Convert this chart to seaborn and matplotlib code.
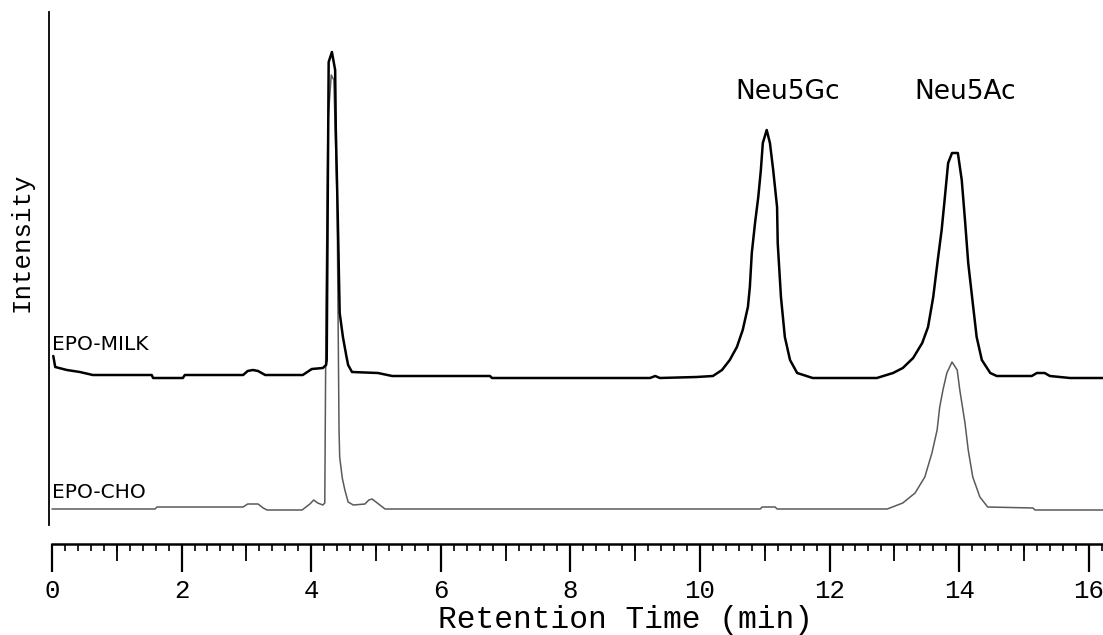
import numpy as np
import pandas as pd
import matplotlib
matplotlib.use("Agg")
import matplotlib.pyplot as plt
from matplotlib.ticker import MultipleLocator, FixedLocator, NullFormatter
import seaborn as sns

# retention time (min) and signal above baseline
milk_time = [0.02, 0.05, 0.23, 0.43, 0.63, 1.54, 1.56, 2.02, 2.05, 2.95, 3.02, 3.10, 3.18, 3.29,
             3.87, 4.01, 4.18, 4.23, 4.24, 4.26, 4.27, 4.32, 4.37, 4.38, 4.41, 4.44, 4.49, 4.54,
             4.57, 4.63, 5.03, 5.25, 6.76, 6.79, 9.23, 9.31, 9.38, 9.95, 10.20, 10.34, 10.46,
             10.57, 10.66, 10.74, 10.77, 10.80, 10.85, 10.90, 10.94, 10.97, 11.03, 11.08, 11.13,
             11.19, 11.20, 11.25, 11.31, 11.39, 11.50, 11.74, 12.73, 12.98, 13.13, 13.29, 13.43,
             13.52, 13.60, 13.67, 13.73, 13.78, 13.83, 13.89, 13.98, 14.04, 14.09, 14.14, 14.21,
             14.27, 14.35, 14.48, 14.58, 15.12, 15.20, 15.32, 15.40, 15.71, 16.22]
milk_signal = [20, 9, 6, 4, 1, 1, -2, -2, 1, 1, 5, 6, 5, 1,
               1, 7, 8, 11, 16, 219, 314, 324, 306, 248, 161, 63, 39, 21,
               11, 4, 3, 0, 0, -2, -2, 0, -2, -1, 0, 6, 16,
               29, 46, 69, 89, 123, 153, 179, 206, 233, 246, 233, 206,
               169, 133, 79, 39, 16, 3, -2, -2, 3, 8, 18, 33,
               49, 79, 116, 146, 179, 213, 223, 223, 196, 156, 113, 73,
               39, 16, 3, 0, 0, 3, 3, 0, -2, -2]

cho_time = [0.00, 1.59, 1.62, 2.95, 3.02, 3.18, 3.26, 3.32, 3.86, 3.98, 4.04, 4.10, 4.18, 4.21,
            4.23, 4.26, 4.31, 4.35, 4.40, 4.43, 4.44, 4.48, 4.52, 4.57, 4.65, 4.83, 4.89, 4.94,
            5.02, 5.14, 10.93, 10.96, 11.16, 11.19, 12.89, 13.13, 13.32, 13.47, 13.58, 13.66,
            13.70, 13.75, 13.81, 13.89, 13.97, 14.01, 14.09, 14.14, 14.21, 14.32, 14.44, 15.14,
            15.17, 16.22]
cho_signal = [0, 0, 2, 2, 5, 5, 1, -1, -1, 5, 9, 6, 4, 6,
              209, 389, 434, 429, 309, 79, 52, 31, 19, 7, 4, 5, 9, 10,
              6, 0, 0, 2, 2, 0, 0, 6, 16, 32, 56, 79,
              102, 119, 136, 147, 139, 119, 86, 59, 32, 12, 2, 1,
              -1, -1]

sample_names = ["EPO-MILK", "EPO-CHO"]
peak_names = ["Neu5Gc", "Neu5Ac"]
peak_times = [11.36, 14.09]

# vertical stacking of the two traces
milk_offset = 149
cho_offset = 16

df_milk = pd.DataFrame({"time": milk_time, "intensity": np.array(milk_signal) + milk_offset})
df_cho = pd.DataFrame({"time": cho_time, "intensity": np.array(cho_signal) + cho_offset})

sns.set_style("white")
plt.rcParams["text.color"] = "black"

fig = plt.figure(figsize=(11.03, 6.35), dpi=100)
ax = fig.add_axes([49 / 1103, 1 - 525 / 635, 1 - 49 / 1103, 513 / 635])

sns.lineplot(data=df_cho, x="time", y="intensity", sort=False, color="#5a5a5a", lw=1.1, ax=ax)
sns.lineplot(data=df_milk, x="time", y="intensity", sort=False, color="black", lw=1.8, ax=ax)

ax.set_xlim(-0.046, 16.22)
ax.set_ylim(0, 513)

for side in ["top", "right"]:
    ax.spines[side].set_visible(False)
ax.spines["left"].set_color("black")
ax.spines["left"].set_linewidth(1.3)
ax.spines["bottom"].set_color("black")
ax.spines["bottom"].set_linewidth(1.8)
ax.spines["bottom"].set_position(("outward", 14))
ax.spines["bottom"].set_bounds(0, 16.22)

ax.set_yticks([])
# long ticks with labels every 2 min, medium ticks at the odd minutes
ax.xaxis.set_major_locator(MultipleLocator(2))
ax.xaxis.set_minor_locator(FixedLocator([1, 3, 5, 7, 9, 11, 13, 15]))
ax.tick_params(axis="x", which="major", direction="out", length=20, width=1.6, color="black",
               labelsize=18.5, labelcolor="black", pad=5, bottom=True)
ax.tick_params(axis="x", which="minor", direction="out", length=12, width=1.3, color="black",
               bottom=True)
for lab in ax.get_xticklabels():
    lab.set_family("Liberation Mono")

# short ticks every 0.2 min on a twin axis drawn on the same ruler
ax2 = ax.twiny()
ax2.set_xlim(ax.get_xlim())
for side in ["top", "right", "left", "bottom"]:
    ax2.spines[side].set_visible(False)
ax2.spines["bottom"].set_position(("outward", 14))
ax2.xaxis.set_ticks_position("bottom")
ax2.xaxis.set_major_locator(MultipleLocator(0.2))
ax2.xaxis.set_major_formatter(NullFormatter())
ax2.tick_params(axis="x", which="major", direction="out", length=5, width=1.2, color="black",
                bottom=True, top=False)
ax2.set_yticks([])

ax.set_xlabel("Retention Time (min)", family="Liberation Mono", fontsize=22.5, color="black")
ax.xaxis.set_label_coords((626 - 49) / 1054, (525 - 620) / 513)
ax.xaxis.label.set_va("center")
ax.set_ylabel("Intensity", family="Liberation Mono", fontsize=18.5, color="black")
ax.yaxis.set_label_coords((22 - 49) / 1054, (525 - 242) / 513)
ax.yaxis.label.set_va("center")

ax.text(0.0, 180, sample_names[0], fontsize=14.5, va="center", ha="left", family="DejaVu Sans",
        color="black")
ax.text(0.0, 33, sample_names[1], fontsize=14.5, va="center", ha="left", family="DejaVu Sans",
        color="black")
for name, t in zip(peak_names, peak_times):
    ax.text(t, 433, name, fontsize=19, va="center", ha="center", family="DejaVu Sans",
            color="black")

fig.savefig("out.png", dpi=100)
